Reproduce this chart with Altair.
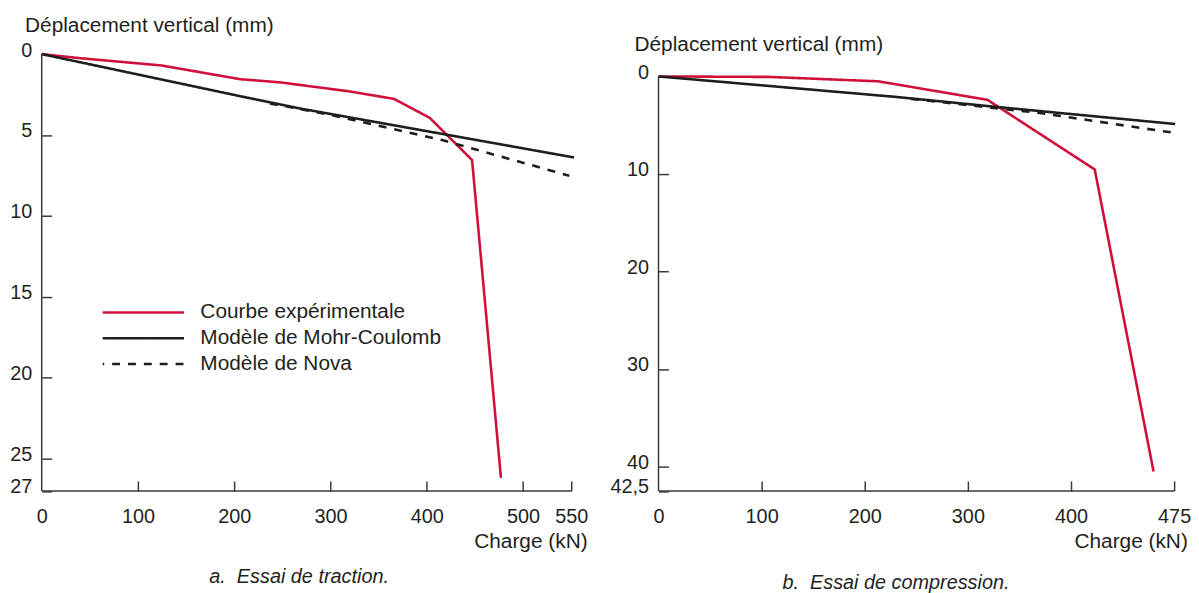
import altair as alt
import pandas as pd

FONT = "Liberation Sans"
TXT = "#231f20"
AXC = "#3a3a3a"

SERIES = ["Courbe expérimentale", "Modèle de Mohr-Coulomb", "Modèle de Nova"]
COLORS = ["#d0103a", "#1d1d1b", "#1d1d1b"]
DASHES = [[1, 0], [1, 0], [8, 8]]

# ---- Panel a : Essai de traction ----
a_exp_x = [0, 41, 124, 206, 248, 319, 366, 403, 447, 477]
a_exp_y = [0, 0.26, 0.7, 1.55, 1.75, 2.3, 2.77, 3.94, 6.55, 26.2]
a_mc_x = [0, 206, 268, 553]
a_mc_y = [0, 2.6, 3.36, 6.39]
a_nova_x = [237, 300, 415, 548]
a_nova_y = [3.05, 3.75, 5.3, 7.52]
a_xticks = [0, 100, 200, 300, 400, 500, 550]
a_xlabels = ["0", "100", "200", "300", "400", "500", "550"]
a_yticks = [0, 5, 10, 15, 20, 25, 27]
a_ylabels = ["0", "5", "10", "15", "20", "25", "27"]

# ---- Panel b : Essai de compression ----
b_exp_x = [0, 107, 213, 319, 423, 480]
b_exp_y = [0, 0.05, 0.5, 2.4, 9.54, 40.5]
b_mc_x = [0, 230, 330, 501]
b_mc_y = [0, 2.1, 3.15, 4.88]
b_nova_x = [245, 370, 501]
b_nova_y = [2.3, 3.75, 5.8]
b_xticks = [0, 100, 200, 300, 400, 500]
b_xlabels = ["0", "100", "200", "300", "400", "475"]
b_yticks = [0, 10, 20, 30, 40, 42.5]
b_ylabels = ["0", "10", "20", "30", "40", "42,5"]


def label_expr(vals, labs):
    expr = "datum.label"
    for v, l in zip(vals, labs):
        expr = f"datum.value == {v} ? '{l}' : " + expr
    return expr


def make_df(exp, mc, nova):
    rows = []
    for name, (xs, ys) in zip(SERIES, [exp, mc, nova]):
        for i, (x, y) in enumerate(zip(xs, ys)):
            rows.append({"series": name, "x": x, "y": y, "i": i})
    return pd.DataFrame(rows)


def panel(df, xdom, ydom, xmax, ymax, xticks, xlabels, yticks, ylabels,
          width, height, ylab_pad, ytitle_x, ytitle_y, xtitle_x,
          leg_x, leg_y, caption, cap_dx, cap_off):
    tick_col = {"condition": {"test": "datum.value == 0", "value": "transparent"},
                "value": AXC}
    legend = alt.Legend(orient="none", legendX=leg_x, legendY=leg_y, title=None,
                        symbolType="stroke", symbolSize=6724, symbolStrokeWidth=2.5,
                        symbolDashOffset=6.5, clipHeight=23.5, rowPadding=2,
                        labelOffset=15, labelFont=FONT, labelFontSize=21,
                        labelLimit=0, labelColor=TXT, padding=0, symbolOffset=0)
    xaxis = alt.Axis(values=xticks, labelExpr=label_expr(xticks, xlabels),
                     domain=False, grid=False, tickSize=10, tickWidth=1.5,
                     tickColor=tick_col, offset=-10, labelPadding=16,
                     labelFont=FONT, labelFontSize=20, labelColor=TXT,
                     labelOverlap=False, labelFlush=False, labelBound=False,
                     title="Charge (kN)", titleFont=FONT, titleFontSize=21,
                     titleFontWeight="normal", titleColor=TXT, titleAlign="right",
                     titleBaseline="alphabetic", titleX=xtitle_x, titleY=67)
    yaxis = alt.Axis(values=yticks, labelExpr=label_expr(yticks, ylabels),
                     domain=False, grid=False, tickSize=10, tickWidth=1.5,
                     tickColor=tick_col, offset=-10, labelPadding=ylab_pad,
                     labelOffset=-4, labelFont=FONT, labelFontSize=20,
                     labelColor=TXT, labelOverlap=False, labelFlush=False,
                     labelBound=False,
                     title="Déplacement vertical (mm)", titleFont=FONT,
                     titleFontSize=21, titleFontWeight="normal", titleColor=TXT,
                     titleAngle=0, titleAlign="left", titleBaseline="alphabetic",
                     titleX=ytitle_x, titleY=ytitle_y)
    xs = alt.Scale(domain=xdom, nice=False, zero=False)
    ys = alt.Scale(domain=ydom, nice=False, zero=False, reverse=True)
    lines = alt.Chart(df).mark_line(strokeWidth=2.6).encode(
        x=alt.X("x:Q", scale=xs, axis=xaxis),
        y=alt.Y("y:Q", scale=ys, axis=yaxis),
        color=alt.Color("series:N", scale=alt.Scale(domain=SERIES, range=COLORS),
                        legend=legend),
        strokeDash=alt.StrokeDash("series:N",
                                  scale=alt.Scale(domain=SERIES, range=DASHES),
                                  legend=legend),
        order="i:Q",
    )
    frame_df = pd.DataFrame({"x": [0, 0], "x2": [0, xmax],
                             "y": [0, ymax], "y2": [ymax, ymax]})
    frame = alt.Chart(frame_df).mark_rule(color=AXC, strokeWidth=1.5).encode(
        x="x:Q", x2="x2:Q", y="y:Q", y2="y2:Q")
    return alt.layer(lines, frame).properties(
        width=width, height=height,
        title=alt.TitleParams(caption, orient="bottom", anchor="start",
                              frame="group", dx=cap_dx, offset=cap_off,
                              font=FONT, fontSize=20, fontStyle="italic",
                              fontWeight="normal", color=TXT))


pa = panel(make_df((a_exp_x, a_exp_y), (a_mc_x, a_mc_y), (a_nova_x, a_nova_y)),
           [0, 550], [0, 27], 550, 27, a_xticks, a_xlabels, a_yticks, a_ylabels,
           534, 440.5, 10, -27.3, -23.2, 550, 60, 248.75,
           "a.\u00a0 Essai de traction.", 169, 16)
pb = panel(make_df((b_exp_x, b_exp_y), (b_mc_x, b_mc_y), (b_nova_x, b_nova_y)),
           [0, 500], [-2.29, 42.5], 500, 42.5, b_xticks, b_xlabels, b_yticks,
           b_ylabels, 520, 440.5, 10, -34.7, -4, 533.3, 62.3, 275,
           "b.\u00a0 Essai de compression.", 125, 22)

chart = alt.hconcat(pa, pb, spacing=88, bounds="flush").properties(
    padding={"left": 1, "top": 3, "right": 0, "bottom": 0}
).configure_view(stroke=None)

chart.save("out.html", embed_options={"renderer": "svg", "actions": False})
